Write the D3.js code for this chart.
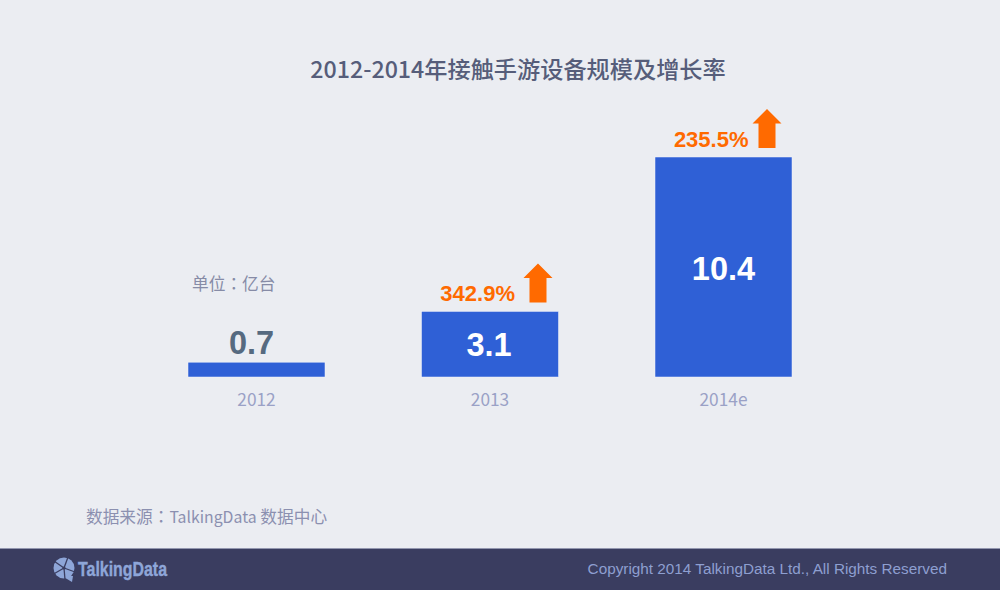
<!DOCTYPE html>
<html><head><meta charset="utf-8">
<script src="https://cdn.jsdelivr.net/npm/d3@7/dist/d3.min.js"></script>
<style>html,body{margin:0;padding:0;background:#ebedf2}svg{display:block}</style>
</head><body><div id="c"></div>
<script>
const categories = ["2012","2013","2014e"];
const values = [0.7,3.1,10.4];
const growth = [null,"342.9%","235.5%"];
const titleText = "2012-2014年接触手游设备规模及增长率";
const unitParts = ["单位","：","亿台"];
const sourceParts = ["数据来源","：","TalkingData"," 数据中心"];
const copyrightText = "Copyright 2014 TalkingData Ltd., All Rights Reserved";
const logoText = "TalkingData";
const sans = "'Noto Sans CJK SC','Noto Sans',sans-serif";
const colonFont = "'Noto Sans CJK TC',sans-serif";
const arial = "'Liberation Sans',Arial,sans-serif";

const svg = d3.select("#c").append("svg").attr("width",1000).attr("height",590);
svg.append("rect").attr("width",1000).attr("height",590).attr("fill","#ebedf2");

const x = d3.scaleBand().domain(categories).range([188,792]).paddingInner(0.4133).paddingOuter(0);
const y = d3.scaleLinear().domain([0,10.4]).range([377,157]);

svg.append("text").attr("x",518).attr("y",77.5).attr("text-anchor","middle")
  .attr("font-family",sans).attr("font-size",23.2).attr("font-weight",500).attr("fill","#565d7a").text(titleText);

svg.selectAll("rect.bar").data(values).join("rect").attr("class","bar")
  .attr("x",(d,i)=>x(categories[i])).attr("width",x.bandwidth())
  .attr("y",d=>y(d)).attr("height",d=>y(0)-y(d)).attr("fill","#2f60d6")
  .attr("stroke","#f2f4fa").attr("stroke-width",0.5);

svg.selectAll("text.val").data(values).join("text").attr("class","val")
  .attr("x",(d,i)=>x(categories[i])+x.bandwidth()/2+(i==0?-5:(i==1?-1:0)))
  .attr("y",(d,i)=> i==0 ? y(d)-8 : (y(d)+y(0))/2+(i==1?12:13))
  .attr("text-anchor","middle").attr("font-family",arial).attr("font-weight",700).attr("font-size",32.5)
  .attr("fill",(d,i)=>i==0?"#566a80":"#ffffff").text(d=>d);

const axis = d3.axisBottom(x).tickSize(0).tickPadding(0);
const ax = svg.append("g").attr("transform","translate(0,"+y(0)+")").call(axis);
ax.select(".domain").remove();
ax.selectAll("text").attr("y",29).attr("dy",0).attr("font-family",sans).attr("font-size",17.3).attr("fill","#9aa1c6");

const g = svg.selectAll("g.gr").data(categories.map((c,i)=>({c,v:values[i],t:growth[i]})).filter(d=>d.t)).join("g").attr("class","gr")
  .attr("transform",d=>`translate(${x(d.c)+x.bandwidth()},${y(d.v)})`);
g.append("text").attr("x",-43.5).attr("y",-10).attr("text-anchor","end").attr("font-family",arial)
  .attr("font-weight",700).attr("font-size",22).attr("fill","#ff6a00").text(d=>d.t);
g.append("path").attr("d","M-25,-48 L-10.5,-33.5 L-16.5,-33.5 L-16.5,-9 L-33.5,-9 L-33.5,-33.5 L-39.5,-33.5 Z")
  .attr("transform",d=>d.c==="2013"?"translate(4.5,0)":null).attr("fill","#ff6a00");

const unit = svg.append("text").attr("x",192).attr("y",289.5).attr("font-family",sans).attr("font-size",16.7).attr("fill","#868ba6");
unit.selectAll("tspan").data(unitParts).join("tspan").attr("font-family",d=>d==="："?colonFont:sans).text(d=>d);
const src = svg.append("text").attr("x",86).attr("y",523).attr("font-family",sans).attr("font-size",16.7).attr("fill","#8b90b0").attr("xml:space","preserve");
src.selectAll("tspan").data(sourceParts).join("tspan")
  .attr("font-family",d=>d==="："?colonFont:sans)
  .attr("font-size",d=>d==="TalkingData"?15.8:16.7).text(d=>d);

svg.append("rect").attr("x",0).attr("y",548).attr("width",1000).attr("height",42).attr("fill","#3a3d60");
svg.append("rect").attr("x",0).attr("y",548).attr("width",1000).attr("height",0.7).attr("fill","#b9bdd2");
svg.append("text").attr("x",947).attr("y",574).attr("text-anchor","end").attr("font-family",arial).attr("font-size",15.3).attr("fill","#8e9fd0").text(copyrightText);

const logo = svg.append("g").attr("transform","translate(64,568)");
logo.append("circle").attr("r",10.5).attr("fill","#8ea6d8");
logo.append("path").attr("d","M-2,8 L9,8 L8,14 Z").attr("fill","#8ea6d8");
logo.selectAll("line").data([20,85,150,215,290]).join("line")
  .attr("x1",0).attr("y1",0)
  .attr("x2",d=>11*Math.cos(d*Math.PI/180)).attr("y2",d=>11*Math.sin(d*Math.PI/180))
  .attr("stroke","#3a3d60").attr("stroke-width",1.3);
logo.append("circle").attr("r",1.6).attr("fill","#3a3d60");
svg.append("text").attr("x",78).attr("y",576).attr("font-family","'Liberation Sans Narrow',"+arial).attr("font-weight",700)
  .attr("font-size",21).attr("fill","#8ea6d8").attr("stroke","#8ea6d8").attr("stroke-width",0.4)
  .attr("textLength",89).attr("lengthAdjust","spacingAndGlyphs").text(logoText);
</script></body></html>
